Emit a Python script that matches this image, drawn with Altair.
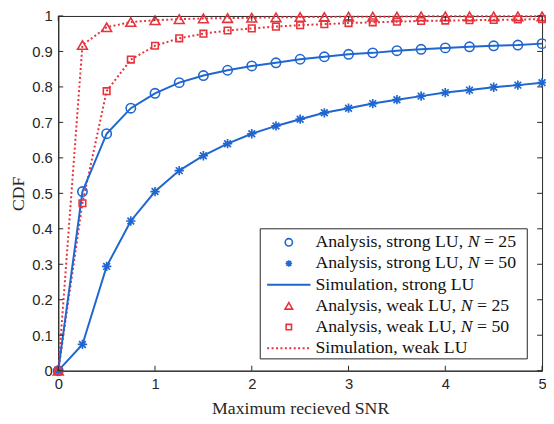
import altair as alt
import pandas as pd

# ---------------- data ----------------
snr = [0, 0.25, 0.5, 0.75, 1, 1.25, 1.5, 1.75, 2, 2.25, 2.5, 2.75, 3,
       3.25, 3.5, 3.75, 4, 4.25, 4.5, 4.75, 5]
strong_n25 = [0, 0.505, 0.668, 0.740, 0.782, 0.812, 0.832, 0.847, 0.859, 0.868, 0.878,
              0.885, 0.892, 0.896, 0.902, 0.906, 0.910, 0.913, 0.916, 0.918, 0.922]
strong_n50 = [0, 0.074, 0.294, 0.422, 0.505, 0.564, 0.606, 0.640, 0.668, 0.690, 0.709,
              0.727, 0.740, 0.753, 0.764, 0.774, 0.784, 0.791, 0.799, 0.805, 0.812]
weak_n25 = [0, 0.918, 0.968, 0.983, 0.988, 0.991, 0.993, 0.994, 0.995, 0.996, 0.997,
            0.997, 0.998, 0.998, 0.998, 0.999, 0.999, 0.999, 0.999, 0.999, 0.999]
weak_n50 = [0, 0.472, 0.788, 0.877, 0.916, 0.937, 0.950, 0.959, 0.965, 0.970, 0.974,
            0.977, 0.980, 0.982, 0.984, 0.986, 0.987, 0.988, 0.989, 0.990, 0.991]
x_ticks = [0, 1, 2, 3, 4, 5]
y_ticks = [0, 0.1, 0.2, 0.3, 0.4, 0.5, 0.6, 0.7, 0.8, 0.9, 1]
legend_prefix = ["Analysis, strong LU,", "Analysis, strong LU,", "Simulation, strong LU",
                 "Analysis, weak LU,", "Analysis, weak LU,", "Simulation, weak LU"]
legend_suffix = ["= 25", "= 50", "", "= 25", "= 50", ""]

# ---------------- style ----------------
BLUE = "#1f66d1"
RED = "#e8323b"
INK = "#262626"
W, H = 491, 360
STAR = "M-1,0L1,0M0,-1L0,1M-0.72,-0.72L0.72,0.72M-0.72,0.72L0.72,-0.72"
LEG_FS = 18

# Times New Roman / Liberation Serif advance widths (1/1000 em)
TNR = {"A": 722, "n": 500, "a": 444, "l": 278, "y": 500, "s": 389, "i": 278, ",": 250,
       " ": 250, "t": 278, "r": 333, "o": 500, "g": 500, "L": 611, "U": 722, "w": 722,
       "e": 444, "k": 500, "S": 556, "m": 778, "u": 500, "N": 722, "=": 564}


def text_w(s, fs):
    return sum(TNR.get(c, 500) for c in s) * fs / 1000.0


df = pd.DataFrame({
    "snr": snr * 4,
    "cdf": strong_n25 + strong_n50 + weak_n25 + weak_n50,
    "series": (["s25"] * len(snr) + ["s50"] * len(snr) + ["w25"] * len(snr) + ["w50"] * len(snr)),
})

xscale = alt.Scale(domain=[0, 5], nice=False, zero=False)
yscale = alt.Scale(domain=[0, 1], nice=False, zero=False)
xaxis = alt.Axis(values=x_ticks, title="Maximum recieved SNR", grid=False, ticks=False,
                 labelPadding=6, titlePadding=8, domainColor=INK, labelColor=INK,
                 labelFont="Liberation Sans", labelFontSize=15, titleFont="Liberation Serif",
                 titleFontSize=18, titleFontWeight="normal", titleColor=INK, labelFlush=False)
yaxis = alt.Axis(values=y_ticks, format="~g", title="CDF", grid=False, ticks=False,
                 labelPadding=6, titlePadding=4, domainColor=INK, labelColor=INK,
                 labelFont="Liberation Sans", labelFontSize=15, titleFont="Liberation Serif",
                 titleFontSize=18, titleFontWeight="normal", titleColor=INK, labelFlush=False)

X = alt.X("snr:Q", scale=xscale, axis=xaxis)
Y = alt.Y("cdf:Q", scale=yscale, axis=yaxis)

base = alt.Chart(df)
strong = base.transform_filter("datum.series == 's25' || datum.series == 's50'")
weak = base.transform_filter("datum.series == 'w25' || datum.series == 'w50'")

sim_strong = strong.mark_line(color=BLUE, strokeWidth=2).encode(x=X, y=Y, detail="series:N")
sim_weak = weak.mark_line(color=RED, strokeWidth=2, strokeDash=[2, 2.5]).encode(
    x=X, y=Y, detail="series:N")

pt_s25 = base.transform_filter("datum.series == 's25'").mark_point(
    shape="circle", filled=False, color=BLUE, size=90, strokeWidth=1.6, opacity=1).encode(x=X, y=Y)
pt_s50 = base.transform_filter("datum.series == 's50'").mark_point(
    shape=STAR, filled=False, color=BLUE, size=90, strokeWidth=1.7, opacity=1).encode(x=X, y=Y)
pt_w25 = base.transform_filter("datum.series == 'w25'").mark_point(
    shape="triangle-up", filled=False, color=RED, size=100, strokeWidth=1.6, opacity=1).encode(x=X, y=Y)
pt_w50 = base.transform_filter("datum.series == 'w50'").mark_point(
    shape="square", filled=False, color=RED, size=45, strokeWidth=1.6, opacity=1).encode(x=X, y=Y)

# inward tick marks (MATLAB style) on all four sides
xt = alt.Chart(pd.DataFrame({"snr": x_ticks}))
yt = alt.Chart(pd.DataFrame({"cdf": y_ticks}))
tick_b = xt.mark_rule(color=INK, strokeWidth=1).encode(x=X, y=alt.value(H), y2=alt.value(H - 5))
tick_t = xt.mark_rule(color=INK, strokeWidth=1).encode(x=X, y=alt.value(0), y2=alt.value(5))
tick_l = yt.mark_rule(color=INK, strokeWidth=1).encode(y=Y, x=alt.value(0), x2=alt.value(5))
tick_r = yt.mark_rule(color=INK, strokeWidth=1).encode(y=Y, x=alt.value(W), x2=alt.value(W - 5))

# ---------------- legend (drawn by hand) ----------------
one = alt.Chart(pd.DataFrame({"k": [0]}))
LX0, LX1, LY0, LY1 = 205, 476, 216, 348
rows_y = [229.7, 251.2, 272.7, 294.2, 315.7, 337.2]
SYM_X = 234
TXT_X = 261

leg = [one.mark_rect(fill="white", stroke=INK, strokeWidth=1).encode(
    x=alt.value(LX0), x2=alt.value(LX1), y=alt.value(LY0), y2=alt.value(LY1))]

leg.append(one.mark_point(shape="circle", filled=False, color=BLUE, size=55, strokeWidth=1.6,
                          opacity=1).encode(x=alt.value(SYM_X), y=alt.value(rows_y[0])))
leg.append(one.mark_point(shape=STAR, filled=False, color=BLUE, size=45, strokeWidth=1.6,
                          opacity=1).encode(x=alt.value(SYM_X), y=alt.value(rows_y[1])))
leg.append(one.mark_rule(color=BLUE, strokeWidth=2).encode(
    x=alt.value(212), x2=alt.value(256), y=alt.value(rows_y[2])))
leg.append(one.mark_point(shape="triangle-up", filled=False, color=RED, size=60, strokeWidth=1.6,
                          opacity=1).encode(x=alt.value(SYM_X), y=alt.value(rows_y[3])))
leg.append(one.mark_point(shape="square", filled=False, color=RED, size=30, strokeWidth=1.6,
                          opacity=1).encode(x=alt.value(SYM_X), y=alt.value(rows_y[4])))
leg.append(one.mark_rule(color=RED, strokeWidth=2, strokeDash=[2, 2.5]).encode(
    x=alt.value(212), x2=alt.value(256), y=alt.value(rows_y[5])))

for i, (pre, suf) in enumerate(zip(legend_prefix, legend_suffix)):
    ry = rows_y[i]
    leg.append(one.mark_text(align="left", baseline="middle", font="Liberation Serif",
                             fontSize=LEG_FS, color="#111111").encode(
        x=alt.value(TXT_X), y=alt.value(ry), text=alt.value(pre)))
    if suf:
        nx = TXT_X + text_w(pre + " ", LEG_FS)
        leg.append(one.mark_text(align="left", baseline="middle", font="Liberation Serif",
                                 fontStyle="italic", fontSize=LEG_FS, color="#111111").encode(
            x=alt.value(nx), y=alt.value(ry), text=alt.value("N")))
        sx = nx + 667 * LEG_FS / 1000.0 + text_w(" ", LEG_FS)
        leg.append(one.mark_text(align="left", baseline="middle", font="Liberation Serif",
                                 fontSize=LEG_FS, color="#111111").encode(
            x=alt.value(sx), y=alt.value(ry), text=alt.value(suf)))

chart = alt.layer(
    sim_weak, sim_strong, pt_s50, pt_s25, pt_w50, pt_w25,
    tick_b, tick_t, tick_l, tick_r, *leg
).properties(
    width=W, height=H,
    autosize=alt.AutoSizeParams(type="none"),
    padding={"left": 51, "top": 5, "right": 4, "bottom": 50},
    background="white",
).configure_view(stroke=INK, strokeWidth=1)

chart.save("out.html", embed_options={"renderer": "svg", "actions": False})
